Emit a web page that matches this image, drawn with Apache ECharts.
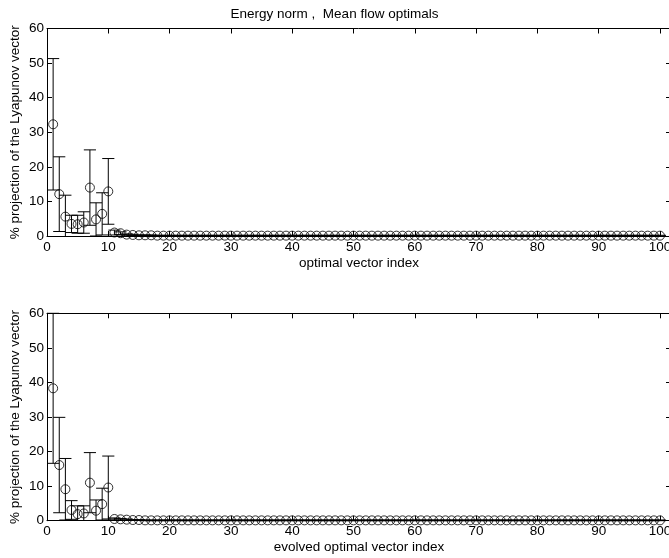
<!DOCTYPE html>
<html>
<head>
<meta charset="utf-8">
<script src="https://cdn.jsdelivr.net/npm/echarts@6/dist/echarts.min.js"></script>
<style>html,body{margin:0;padding:0;background:#fff;}#c{width:669px;height:558px;}</style>
</head>
<body>
<div id="c"></div>
<script>
var titleText = 'Energy norm ,  Mean flow optimals';
var xNames = ['optimal vector index', 'evolved optimal vector index'];
var yName = '% projection of the Lyapunov vector';

var topMean = [32.3, 12.1, 5.6, 3.5, 3.4, 3.9, 14.0, 4.8, 6.4, 12.9,
  1.0, 0.8, 0.4, 0.3, 0.2, 0.2, 0.2, 0.1, 0.1, 0.1,
  0.1, 0.1, 0.1, 0.1, 0.1, 0.1, 0.1, 0.1, 0.1, 0.1,
  0.1, 0.1, 0.1, 0.1, 0.1, 0.1, 0.1, 0.1, 0.1, 0.1,
  0.1, 0.1, 0.1, 0.1, 0.1, 0.1, 0.1, 0.1, 0.1, 0.1,
  0.1, 0.1, 0.1, 0.1, 0.1, 0.1, 0.1, 0.1, 0.1, 0.1,
  0.1, 0.1, 0.1, 0.1, 0.1, 0.1, 0.1, 0.1, 0.1, 0.1,
  0.1, 0.1, 0.1, 0.1, 0.1, 0.1, 0.1, 0.1, 0.1, 0.1,
  0.1, 0.1, 0.1, 0.1, 0.1, 0.1, 0.1, 0.1, 0.1, 0.1,
  0.1, 0.1, 0.1, 0.1, 0.1, 0.1, 0.1, 0.1, 0.1, 0.1];
var topErr = [19.0, 10.8, 6.2, 2.5, 2.6, 3.1, 10.9, 4.8, 6.1, 9.5,
  0.7, 0.4, 0.2, 0.2, 0.1, 0.1, 0.1, 0.1, 0.1, 0.1,
  0.1, 0.1, 0.1, 0.1, 0.1, 0.1, 0.1, 0.1, 0.1, 0.1,
  0.1, 0.1, 0.1, 0.1, 0.1, 0.1, 0.1, 0.1, 0.1, 0.1,
  0.1, 0.1, 0.1, 0.1, 0.1, 0.1, 0.1, 0.1, 0.1, 0.1,
  0.1, 0.1, 0.1, 0.1, 0.1, 0.1, 0.1, 0.1, 0.1, 0.1,
  0.1, 0.1, 0.1, 0.1, 0.1, 0.1, 0.1, 0.1, 0.1, 0.1,
  0.1, 0.1, 0.1, 0.1, 0.1, 0.1, 0.1, 0.1, 0.1, 0.1,
  0.1, 0.1, 0.1, 0.1, 0.1, 0.1, 0.1, 0.1, 0.1, 0.1,
  0.1, 0.1, 0.1, 0.1, 0.1, 0.1, 0.1, 0.1, 0.1, 0.1];
var botMean = [38.3, 16.1, 9.1, 3.1, 1.9, 2.1, 11.0, 2.9, 4.8, 9.6,
  0.5, 0.4, 0.3, 0.2, 0.2, 0.1, 0.1, 0.1, 0.1, 0.1,
  0.1, 0.1, 0.1, 0.1, 0.1, 0.1, 0.1, 0.1, 0.1, 0.1,
  0.1, 0.1, 0.1, 0.1, 0.1, 0.1, 0.1, 0.1, 0.1, 0.1,
  0.1, 0.1, 0.1, 0.1, 0.1, 0.1, 0.1, 0.1, 0.1, 0.1,
  0.1, 0.1, 0.1, 0.1, 0.1, 0.1, 0.1, 0.1, 0.1, 0.1,
  0.1, 0.1, 0.1, 0.1, 0.1, 0.1, 0.1, 0.1, 0.1, 0.1,
  0.1, 0.1, 0.1, 0.1, 0.1, 0.1, 0.1, 0.1, 0.1, 0.1,
  0.1, 0.1, 0.1, 0.1, 0.1, 0.1, 0.1, 0.1, 0.1, 0.1,
  0.1, 0.1, 0.1, 0.1, 0.1, 0.1, 0.1, 0.1, 0.1, 0.1];
var botErr = [21.7, 13.8, 8.9, 2.7, 2.4, 2.2, 8.7, 3.1, 4.6, 9.1,
  0.3, 0.2, 0.2, 0.1, 0.1, 0.1, 0.1, 0.1, 0.1, 0.1,
  0.1, 0.1, 0.1, 0.1, 0.1, 0.1, 0.1, 0.1, 0.1, 0.1,
  0.1, 0.1, 0.1, 0.1, 0.1, 0.1, 0.1, 0.1, 0.1, 0.1,
  0.1, 0.1, 0.1, 0.1, 0.1, 0.1, 0.1, 0.1, 0.1, 0.1,
  0.1, 0.1, 0.1, 0.1, 0.1, 0.1, 0.1, 0.1, 0.1, 0.1,
  0.1, 0.1, 0.1, 0.1, 0.1, 0.1, 0.1, 0.1, 0.1, 0.1,
  0.1, 0.1, 0.1, 0.1, 0.1, 0.1, 0.1, 0.1, 0.1, 0.1,
  0.1, 0.1, 0.1, 0.1, 0.1, 0.1, 0.1, 0.1, 0.1, 0.1,
  0.1, 0.1, 0.1, 0.1, 0.1, 0.1, 0.1, 0.1, 0.1, 0.1];

var capHalf = 0.99;
var YMIN = 0, YMAX = 60;
var XMAX = 101.8;
var font = 'Liberation Sans, Arial, Helvetica, sans-serif';
var fs = 13.5;

function pts(mean) { return mean.map(function (v, i) { return [i + 1, v]; }); }
function errData(mean, err) { return mean.map(function (v, i) { return [i + 1, v - err[i], v + err[i]]; }); }

function renderErr(params, api) {
  var x = api.value(0), lo = api.value(1), hi = api.value(2);
  var loC = Math.max(lo, YMIN), hiC = Math.min(hi, YMAX);
  var children = [];
  var style = { stroke: '#000', lineWidth: 1, fill: null };
  var p1 = api.coord([x, loC]), p2 = api.coord([x, hiC]);
  children.push({ type: 'line', shape: { x1: p1[0], y1: p1[1], x2: p2[0], y2: p2[1] }, style: style });
  [lo, hi].forEach(function (yv) {
    if (yv >= YMIN && yv <= YMAX) {
      var a = api.coord([Math.max(x - capHalf, 0), yv]), b = api.coord([x + capHalf, yv]);
      children.push({ type: 'line', shape: { x1: a[0], y1: a[1], x2: b[0], y2: b[1] }, style: style });
    }
  });
  return { type: 'group', children: children };
}

var grids = [
  { left: 47, right: -2, top: 28.5, height: 207.5, containLabel: false, outerBoundsMode: 'none' },
  { left: 47, right: -2, top: 313.3, height: 207.4, containLabel: false, outerBoundsMode: 'none' }
];

var xAxes = [], yAxes = [];
[0, 1].forEach(function (g) {
  xAxes.push({
    type: 'value', gridIndex: g, min: 0, max: XMAX, interval: 10, position: 'bottom',
    name: xNames[g], nameLocation: 'middle', nameGap: 20, nameMoveOverlap: false,
    nameTextStyle: { color: '#000', fontSize: fs, fontFamily: font },
    axisLine: { onZero: false, lineStyle: { color: '#000', width: 1 } },
    axisTick: { inside: true, length: 5, lineStyle: { color: '#000' } },
    axisLabel: { color: '#000', fontSize: fs, fontFamily: font, margin: 4, showMaxLabel: false },
    splitLine: { show: false }
  });
  xAxes.push({
    type: 'value', gridIndex: g, min: 0, max: XMAX, interval: 10, position: 'top',
    axisLine: { onZero: false, lineStyle: { color: '#000', width: 1 } },
    axisTick: { inside: true, length: 5, lineStyle: { color: '#000' } },
    axisLabel: { show: false }, splitLine: { show: false }
  });
  yAxes.push({
    type: 'value', gridIndex: g, min: 0, max: 60, interval: 10, position: 'left',
    name: yName, nameLocation: 'middle', nameGap: 25, nameRotate: 90, nameMoveOverlap: false,
    nameTextStyle: { color: '#000', fontSize: fs, fontFamily: font },
    axisLine: { onZero: false, lineStyle: { color: '#000', width: 1 } },
    axisTick: { inside: true, length: 5, lineStyle: { color: '#000' } },
    axisLabel: { color: '#000', fontSize: fs, fontFamily: font, margin: 3 },
    splitLine: { show: false }
  });
  yAxes.push({
    type: 'value', gridIndex: g, min: 0, max: 60, interval: 10, position: 'right',
    axisLine: { onZero: false, lineStyle: { color: '#000', width: 1 } },
    axisTick: { inside: true, length: 5, lineStyle: { color: '#000' } },
    axisLabel: { show: false }, splitLine: { show: false }
  });
});

var series = [
  { type: 'custom', xAxisIndex: 0, yAxisIndex: 0, renderItem: renderErr, data: errData(topMean, topErr), silent: true, animation: false },
  { type: 'scatter', xAxisIndex: 0, yAxisIndex: 0, data: pts(topMean), symbol: 'circle', symbolSize: 9,
    itemStyle: { color: 'rgba(0,0,0,0)', borderColor: '#000', borderWidth: 1 }, animation: false, silent: true },
  { type: 'custom', xAxisIndex: 2, yAxisIndex: 2, renderItem: renderErr, data: errData(botMean, botErr), silent: true, animation: false },
  { type: 'scatter', xAxisIndex: 2, yAxisIndex: 2, data: pts(botMean), symbol: 'circle', symbolSize: 9,
    itemStyle: { color: 'rgba(0,0,0,0)', borderColor: '#000', borderWidth: 1 }, animation: false, silent: true }
];

var chart = echarts.init(document.getElementById('c'), null, { renderer: 'canvas' });
chart.setOption({
  backgroundColor: '#fff',
  animation: false,
  title: { text: titleText, left: 'center', top: 2, textStyle: { color: '#000', fontSize: fs, fontWeight: 'normal', fontFamily: font } },
  grid: grids,
  xAxis: xAxes,
  yAxis: yAxes,
  series: series
});
</script>
</body>
</html>
